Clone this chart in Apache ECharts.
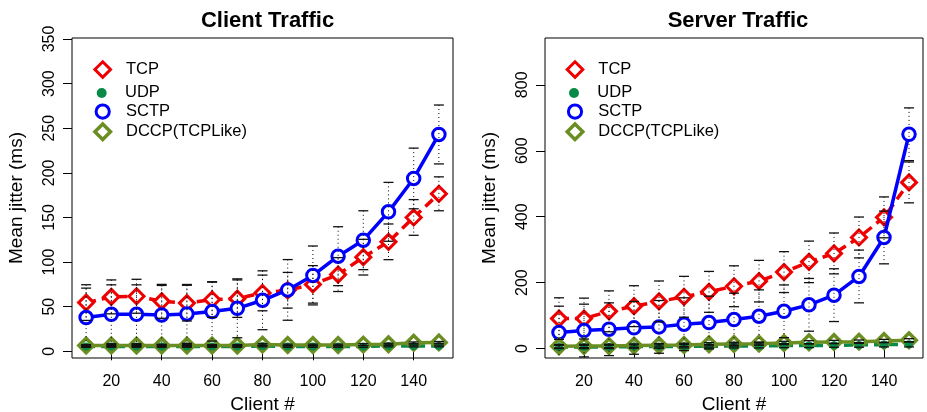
<!DOCTYPE html>
<html>
<head>
<meta charset="utf-8">
<script src="https://cdn.jsdelivr.net/npm/echarts@6/dist/echarts.min.js"></script>
<style>
html,body{margin:0;padding:0;background:#fff;}
#chart{width:927px;height:412px;}
</style>
</head>
<body>
<div id="chart"></div>
<script>
// ---- data ----
const clients = [10, 20, 30, 40, 50, 60, 70, 80, 90, 100, 110, 120, 130, 140, 150];
const xTicks = [20, 40, 60, 80, 100, 120, 140];
const clientYTicks = [0, 50, 100, 150, 200, 250, 300, 350];
const serverYTicks = [0, 200, 400, 600, 800];
const seriesNames = ['TCP', 'UDP', 'SCTP', 'DCCP(TCPLike)'];
const panelTitles = ['Client Traffic', 'Server Traffic'];

// Client traffic (mean jitter, ms) and error half-widths
const clientTCP = [54.6, 61, 61.7, 56, 54, 58, 59, 65.4, 68.4, 75, 86, 105.5, 122.7, 150, 176.5];
const clientTCPErr = [20, 19, 19, 19, 20, 20, 21, 20, 20, 21, 19, 20, 20, 20, 19];
const clientUDP = [5.5, 5.5, 5.5, 5.5, 5.5, 5.5, 5.5, 6, 5.5, 5.5, 5.5, 5.5, 6, 6, 6];
const clientUDPErr = [1, 1, 1, 1, 1, 1, 1, 1, 1, 1, 1, 1, 1, 1, 1];
const clientSCTP = [37.8, 41.5, 41.5, 40.8, 41.9, 44.5, 48.2, 57.2, 68.8, 85, 106.6, 124.5, 156.3, 193.7, 243];
const clientSCTPErr = [33, 33, 33, 33, 33, 33, 33, 33, 34, 33, 33, 33, 33, 34, 33];
const clientDCCP = [6.5, 6.5, 6.5, 6.5, 6.5, 6.5, 6.5, 7.5, 7, 7, 7, 7.5, 8, 9.5, 10];
const clientDCCPErr = [1, 1, 1, 1, 1, 1, 1, 1, 1, 1, 1, 1, 1, 1, 1];

// Server traffic
const serverTCP = [91, 91, 113, 128.6, 143, 157, 172, 189, 204.5, 232, 263, 288.6, 337, 398, 504];
const serverTCPErr = [63, 62, 62, 62, 62, 62, 62, 62, 63, 62, 63, 62, 62, 62, 62];
const serverUDP = [5, 5, 5, 6, 6, 7, 7, 8, 8, 9, 9, 10, 11, 12, 13];
const serverUDPErr = [5, 5, 5, 5, 5, 5, 5, 6, 6, 6, 6, 6, 7, 7, 8];
const serverSCTP = [48.6, 54.7, 58.7, 62.8, 65.8, 74, 79, 88, 98, 113, 132.7, 162, 218.7, 337, 650];
const serverSCTPErr = [80, 80, 80, 80, 80, 80, 80, 80, 80, 80, 80, 80, 80, 80, 80];
const serverDCCP = [7, 8, 8, 9, 10, 11, 13, 14, 15, 17, 19, 20, 21, 23, 25];
const serverDCCPErr = [5, 5, 5, 5, 5, 5, 5, 5, 5, 5, 5, 5, 5, 5, 5];

// ---- styling ----
const FONT = '"Liberation Sans", Arial, Helvetica, sans-serif';
const RED = '#ee0000', BLUE = '#0000ff', GREEN = '#0a8a48', OLIVE = '#6b8e23';

const panels = [
  { tcp: clientTCP, tcpE: clientTCPErr, udp: clientUDP, udpE: clientUDPErr,
    sctp: clientSCTP, sctpE: clientSCTPErr, dccp: clientDCCP, dccpE: clientDCCPErr,
    yTicks: clientYTicks, ymin: -7.5, ymax: 351.1,
    grid: { left: 72, right: 474, top: 38, bottom: 54 }, titleX: 262.5, legX: 101.7 },
  { tcp: serverTCP, tcpE: serverTCPErr, udp: serverUDP, udpE: serverUDPErr,
    sctp: serverSCTP, sctpE: serverSCTPErr, dccp: serverDCCP, dccpE: serverDCCPErr,
    yTicks: serverYTicks, ymin: -28.6, ymax: 942,
    grid: { left: 545, right: 4, top: 38, bottom: 54 }, titleX: 733, legX: 574 }
];

function pairs(vals) { return clients.map((c, i) => [c, vals[i]]); }
function errData(vals, errs) { return clients.map((c, i) => [c, vals[i] - errs[i], vals[i] + errs[i]]); }

function renderErr(params, api) {
  const x = api.value(0), lo = api.value(1), hi = api.value(2);
  const a = api.coord([x, hi]), b = api.coord([x, lo]);
  const w = 5;
  return {
    type: 'group',
    children: [
      { type: 'line', shape: { x1: a[0], y1: a[1], x2: b[0], y2: b[1] },
        style: { stroke: '#000', lineWidth: 1, lineDash: [1, 3] } },
      { type: 'line', shape: { x1: a[0] - w, y1: a[1], x2: a[0] + w, y2: a[1] },
        style: { stroke: '#111', lineWidth: 1.3 } },
      { type: 'line', shape: { x1: b[0] - w, y1: b[1], x2: b[0] + w, y2: b[1] },
        style: { stroke: '#111', lineWidth: 1.3 } }
    ]
  };
}

const grids = [], xAxes = [], yAxes = [], series = [], titles = [], legends = [];

panels.forEach((p, k) => {
  grids.push(Object.assign({ show: true, borderColor: '#000', borderWidth: 1, backgroundColor: 'transparent',
    containLabel: false, outerBoundsMode: 'none' }, p.grid));
  titles.push({ text: panelTitles[k], left: p.titleX, top: 5, textAlign: 'center',
    textStyle: { fontFamily: FONT, fontSize: 22, fontWeight: 'bold', color: '#000' } });
  xAxes.push({
    type: 'value', gridIndex: k, min: 4.4, max: 155.6,
    name: 'Client #', nameLocation: 'middle', nameGap: 36,
    nameTextStyle: { fontFamily: FONT, fontSize: 19, color: '#000' },
    axisLine: { show: false }, splitLine: { show: false },
    axisTick: { show: true, inside: false, length: 9, customValues: xTicks, lineStyle: { color: '#000', width: 1 } },
    axisLabel: { customValues: xTicks, margin: 16, fontFamily: FONT, fontSize: 16, color: '#000' }
  });
  yAxes.push({
    type: 'value', gridIndex: k, min: p.ymin, max: p.ymax,
    name: 'Mean jitter (ms)', nameLocation: 'middle', nameGap: 46,
    nameTextStyle: { fontFamily: FONT, fontSize: 19, color: '#000' },
    axisLine: { show: false }, splitLine: { show: false },
    axisTick: { show: true, inside: false, length: 9, customValues: p.yTicks, lineStyle: { color: '#000', width: 1 } },
    axisLabel: { customValues: p.yTicks, rotate: 90, margin: 14, fontFamily: FONT, fontSize: 16, color: '#000' }
  });
  const ax = { xAxisIndex: k, yAxisIndex: k, animation: false, silent: true };
  // UDP dots (first so legend uses its style)
  series.push(Object.assign({ name: 'UDP', type: 'line', data: pairs(p.udp), symbol: 'circle', symbolSize: 8,
    itemStyle: { color: GREEN, borderWidth: 0 }, lineStyle: { opacity: 0, width: 0 }, z: 6 }, ax));
  series.push(Object.assign({ name: 'UDP', type: 'line', data: pairs(p.udp), symbol: 'none',
    lineStyle: { color: GREEN, width: 3.5, type: [9, 6] }, z: 2 }, ax));
  series.push(Object.assign({ name: 'TCP', type: 'line', data: pairs(p.tcp), symbol: 'diamond', symbolSize: 15,
    itemStyle: { color: '#fff', borderColor: RED, borderWidth: 3 },
    lineStyle: { color: RED, width: 3.5, type: [10, 6] }, z: 3 }, ax));
  series.push(Object.assign({ name: 'SCTP', type: 'line', data: pairs(p.sctp), symbol: 'circle', symbolSize: 12.5,
    itemStyle: { color: '#fff', borderColor: BLUE, borderWidth: 3 },
    lineStyle: { color: BLUE, width: 3.5, type: 'solid' }, z: 4 }, ax));
  series.push(Object.assign({ name: 'DCCP(TCPLike)', type: 'line', data: pairs(p.dccp), symbol: 'diamond', symbolSize: 14.5,
    itemStyle: { color: '#fff', borderColor: OLIVE, borderWidth: 3.5 },
    lineStyle: { color: OLIVE, width: 3.5, type: 'solid' }, z: 5 }, ax));
  [[p.tcp, p.tcpE], [p.udp, p.udpE], [p.sctp, p.sctpE], [p.dccp, p.dccpE]].forEach(([v, e]) => {
    series.push(Object.assign({ type: 'custom', renderItem: renderErr, data: errData(v, e),
      encode: { x: 0, y: [1, 2] }, clip: true, z: 7 }, ax));
  });
  // legend: one component per entry
  const rows = [70, 90.7, 111.3, 131.9];
  const heights = [19.5, 12.5, 16.5, 19.5];
  const W = 36.6;
  seriesNames.forEach((nm, i) => {
    legends.push({
      data: [nm], orient: 'horizontal', padding: 0, selectedMode: false,
      left: p.legX - W / 2, top: rows[i] - heights[i] / 2,
      itemWidth: W, itemHeight: heights[i],
      itemStyle: { borderWidth: nm === 'UDP' ? 0 : (nm === 'DCCP(TCPLike)' ? 3.5 : 3) },
      lineStyle: { opacity: 0 },
      textStyle: { fontFamily: FONT, fontSize: 16.5, color: '#000' }
    });
  });
});

const chart = echarts.init(document.getElementById('chart'), null, { renderer: 'canvas' });
chart.setOption({
  animation: false,
  backgroundColor: '#fff',
  title: titles,
  grid: grids,
  xAxis: xAxes,
  yAxis: yAxes,
  legend: legends,
  series: series
});
</script>
</body>
</html>
